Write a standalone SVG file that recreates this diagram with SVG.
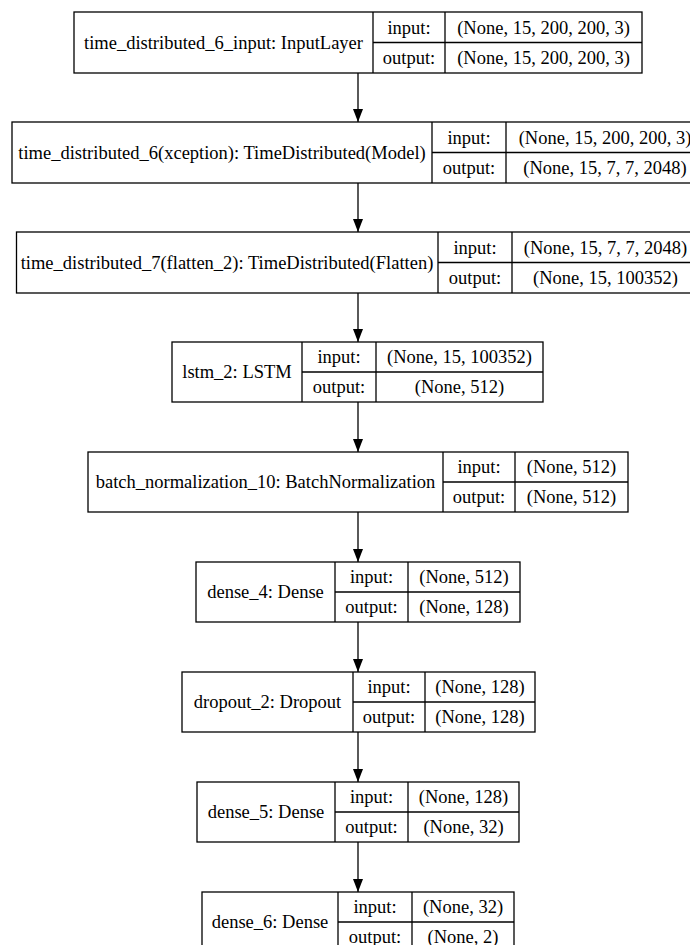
<svg xmlns="http://www.w3.org/2000/svg" width="690" height="945" viewBox="0 0 690 945">
<defs>
<marker id="ah" markerWidth="13" markerHeight="10" refX="13" refY="5" orient="auto" markerUnits="userSpaceOnUse" viewBox="0 0 13 10">
<path d="M0,0 L13,5 L0,10 Z" fill="#000"/>
</marker>
</defs>
<style>
rect{fill:#fff;stroke:#000;stroke-width:1.3}
line{stroke:#000;stroke-width:1.3}
text{font-family:"Liberation Serif","Times New Roman",serif;font-size:18.5px;fill:#000;text-anchor:middle;dominant-baseline:central}
</style>
<rect x="0" y="0" width="690" height="945" style="fill:#fff;stroke:none"/>
<g id="connectors">
<line x1="358" y1="73" x2="358" y2="122" marker-end="url(#ah)"/>
<line x1="358" y1="183" x2="358" y2="232" marker-end="url(#ah)"/>
<line x1="358" y1="293" x2="358" y2="342" marker-end="url(#ah)"/>
<line x1="358" y1="402" x2="358" y2="452" marker-end="url(#ah)"/>
<line x1="358" y1="512" x2="358" y2="562" marker-end="url(#ah)"/>
<line x1="358" y1="622" x2="358" y2="672" marker-end="url(#ah)"/>
<line x1="358" y1="732" x2="358" y2="782" marker-end="url(#ah)"/>
<line x1="358" y1="842" x2="358" y2="892" marker-end="url(#ah)"/>
</g>
<g id="node1">
<rect x="74" y="12" width="568" height="61"/>
<line x1="373" y1="12" x2="373" y2="73"/><line x1="445" y1="12" x2="445" y2="73"/><line x1="373" y1="42.5" x2="642" y2="42.5"/>
<text x="223.5" y="42.5">time_distributed_6_input: InputLayer</text>
<text x="409" y="27.5">input:</text><text x="409" y="58">output:</text>
<text x="543.5" y="27.5">(None, 15, 200, 200, 3)</text><text x="543.5" y="58">(None, 15, 200, 200, 3)</text>
</g>
<g id="node2">
<rect x="12" y="122" width="692" height="61"/>
<line x1="432" y1="122" x2="432" y2="183"/><line x1="506" y1="122" x2="506" y2="183"/><line x1="432" y1="152.5" x2="704" y2="152.5"/>
<text x="222" y="152.5">time_distributed_6(xception): TimeDistributed(Model)</text>
<text x="469" y="137.5">input:</text><text x="469" y="168">output:</text>
<text x="605" y="137.5">(None, 15, 200, 200, 3)</text><text x="605" y="168">(None, 15, 7, 7, 2048)</text>
</g>
<g id="node3">
<rect x="16.5" y="232" width="683" height="61"/>
<line x1="438" y1="232" x2="438" y2="293"/><line x1="512" y1="232" x2="512" y2="293"/><line x1="438" y1="262.5" x2="699.5" y2="262.5"/>
<text x="227" y="262.5">time_distributed_7(flatten_2): TimeDistributed(Flatten)</text>
<text x="475" y="247.5">input:</text><text x="475" y="278">output:</text>
<text x="605.5" y="247.5">(None, 15, 7, 7, 2048)</text><text x="605.5" y="278">(None, 15, 100352)</text>
</g>
<g id="node4">
<rect x="172" y="342" width="371" height="60"/>
<line x1="302" y1="342" x2="302" y2="402"/><line x1="376" y1="342" x2="376" y2="402"/><line x1="302" y1="372" x2="543" y2="372"/>
<text x="237" y="372">lstm_2: LSTM</text>
<text x="339" y="357">input:</text><text x="339" y="387">output:</text>
<text x="459.5" y="357">(None, 15, 100352)</text><text x="459.5" y="387">(None, 512)</text>
</g>
<g id="node5">
<rect x="88" y="452" width="540" height="60"/>
<line x1="443" y1="452" x2="443" y2="512"/><line x1="515" y1="452" x2="515" y2="512"/><line x1="443" y1="482" x2="628" y2="482"/>
<text x="265.5" y="482">batch_normalization_10: BatchNormalization</text>
<text x="479" y="467">input:</text><text x="479" y="497">output:</text>
<text x="571.5" y="467">(None, 512)</text><text x="571.5" y="497">(None, 512)</text>
</g>
<g id="node6">
<rect x="196" y="562" width="324" height="60"/>
<line x1="335" y1="562" x2="335" y2="622"/><line x1="408" y1="562" x2="408" y2="622"/><line x1="335" y1="592" x2="520" y2="592"/>
<text x="265.5" y="592">dense_4: Dense</text>
<text x="371.5" y="577">input:</text><text x="371.5" y="607">output:</text>
<text x="464" y="577">(None, 512)</text><text x="464" y="607">(None, 128)</text>
</g>
<g id="node7">
<rect x="182" y="672" width="353" height="60"/>
<line x1="353" y1="672" x2="353" y2="732"/><line x1="425" y1="672" x2="425" y2="732"/><line x1="353" y1="702" x2="535" y2="702"/>
<text x="267.5" y="702">dropout_2: Dropout</text>
<text x="389" y="687">input:</text><text x="389" y="717">output:</text>
<text x="480" y="687">(None, 128)</text><text x="480" y="717">(None, 128)</text>
</g>
<g id="node8">
<rect x="197" y="782" width="322" height="60"/>
<line x1="335" y1="782" x2="335" y2="842"/><line x1="408" y1="782" x2="408" y2="842"/><line x1="335" y1="812" x2="519" y2="812"/>
<text x="266" y="812">dense_5: Dense</text>
<text x="371.5" y="797">input:</text><text x="371.5" y="827">output:</text>
<text x="463.5" y="797">(None, 128)</text><text x="463.5" y="827">(None, 32)</text>
</g>
<g id="node9">
<rect x="202" y="892" width="312" height="60"/>
<line x1="338" y1="892" x2="338" y2="952"/><line x1="412" y1="892" x2="412" y2="952"/><line x1="338" y1="922" x2="514" y2="922"/>
<text x="270" y="922">dense_6: Dense</text>
<text x="375" y="907">input:</text><text x="375" y="937">output:</text>
<text x="463" y="907">(None, 32)</text><text x="463" y="937">(None, 2)</text>
</g>
</svg>
